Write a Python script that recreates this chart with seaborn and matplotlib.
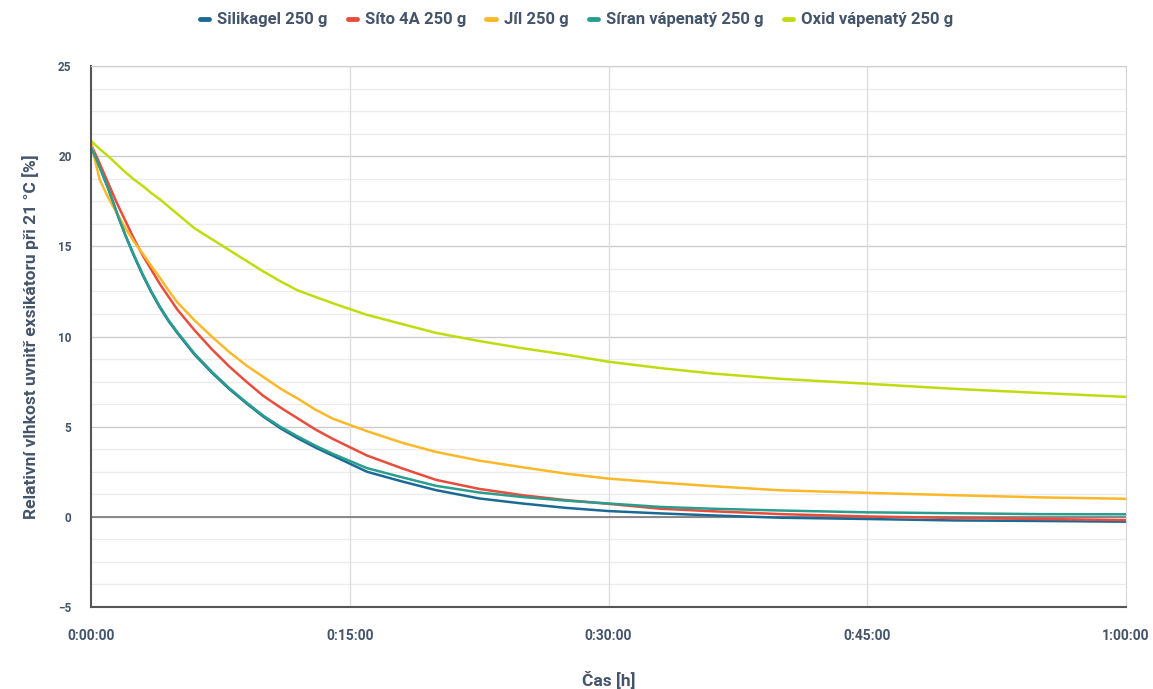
import numpy as np
import pandas as pd
import matplotlib
matplotlib.use("Agg")
import matplotlib.pyplot as plt
from matplotlib.ticker import MultipleLocator, FixedLocator, FuncFormatter
import seaborn as sns

# time in minutes
cas = [0, 0.5, 1, 1.5, 2, 2.5, 3, 3.5, 4, 4.5, 5, 6, 7, 8, 9, 10, 11, 12, 13, 14, 16, 18, 20, 22.5, 25, 27.5, 30,
       33, 36, 40, 45, 50, 55, 60]

silikagel = [20.5, 19.4, 18.2, 16.85, 15.6, 14.45, 13.4, 12.45, 11.6, 10.85, 10.2, 9.0, 8.0, 7.1, 6.3, 5.55, 4.9, 4.35,
             3.85, 3.4, 2.5, 1.97, 1.48, 1.02, 0.74, 0.5, 0.32, 0.19, 0.08, -0.05, -0.12, -0.2, -0.23, -0.27]
sito = [20.65, 19.6, 18.5, 17.4, 16.4, 15.4, 14.5, 13.7, 12.9, 12.2, 11.5, 10.35, 9.3, 8.35, 7.5, 6.7, 6.05, 5.45,
        4.85, 4.33, 3.4, 2.7, 2.05, 1.55, 1.2, 0.93, 0.72, 0.45, 0.31, 0.15, 0.02, -0.06, -0.12, -0.18]
jil = [20.75, 18.7, 17.7, 16.85, 16.0, 15.25, 14.6, 13.9, 13.25, 12.55, 11.9, 10.9, 10.0, 9.15, 8.4, 7.75, 7.1, 6.55,
       5.95, 5.45, 4.75, 4.12, 3.6, 3.12, 2.75, 2.4, 2.12, 1.9, 1.7, 1.47, 1.33, 1.2, 1.08, 1.0]
siran = [20.5, 19.4, 18.2, 16.85, 15.6, 14.5, 13.45, 12.5, 11.65, 10.9, 10.25, 9.05, 8.05, 7.15, 6.35, 5.6, 4.98, 4.45,
         3.95, 3.5, 2.7, 2.2, 1.72, 1.35, 1.1, 0.9, 0.74, 0.55, 0.45, 0.35, 0.25, 0.2, 0.15, 0.14]
oxid = [20.85, 20.4, 20.0, 19.55, 19.1, 18.7, 18.35, 17.95, 17.6, 17.2, 16.8, 16.0, 15.4, 14.8, 14.2, 13.6, 13.05, 12.55,
        12.2, 11.85, 11.2, 10.7, 10.2, 9.75, 9.35, 9.0, 8.6, 8.25, 7.95, 7.65, 7.38, 7.1, 6.87, 6.65]

nazvy = ["Silikagel 250 g", "Síto 4A 250 g", "Jíl 250 g", "Síran vápenatý 250 g", "Oxid vápenatý 250 g"]
barvy = ["#1b6a96", "#e74c3c", "#fbb829", "#2a9d8f", "#c1dc0e"]

serie = [silikagel, sito, jil, siran, oxid]
rows = []
for nazev, hodnoty in zip(nazvy, serie):
    for t, v in zip(cas, hodnoty):
        rows.append({"cas": t, "vlhkost": v, "vzorek": nazev})
df = pd.DataFrame(rows)

sns.set_style("white")
plt.rcParams['font.family'] = ['Roboto', 'DejaVu Sans']
text_col = "#44546a"

fig = plt.figure(figsize=(11.53, 6.89), dpi=100)
ax = fig.add_axes([91/1153, 82/689, 1035/1153, 541/689])

sns.lineplot(data=df, x="cas", y="vlhkost", hue="vzorek", hue_order=nazvy,
             palette=dict(zip(nazvy, barvy)), linewidth=1.8, ax=ax, legend=False)

ax.set_xlim(0, 60)
ax.set_ylim(-5, 25)

# grid lines
for v in np.arange(-5, 25.01, 1.25):
    if abs(v % 5) < 1e-9:
        ax.axhline(v, color="#cccccc", lw=1, zorder=0)
    else:
        ax.axhline(v, color="#ececec", lw=1, zorder=0)
ax.axhline(0, color="#777777", lw=1.2, zorder=1)
for v in [15, 30, 45]:
    ax.axvline(v, color="#dddddd", lw=1, zorder=0)

ax.yaxis.set_major_locator(MultipleLocator(5))
ax.yaxis.set_minor_locator(MultipleLocator(1.25))
ax.xaxis.set_major_locator(MultipleLocator(15))
ax.xaxis.set_minor_locator(FixedLocator([x for x in np.arange(0, 60.01, 3.75) if x % 15 != 0]))
ax.xaxis.set_major_formatter(FuncFormatter(lambda x, p: "%d:%02d:00" % (int(x) // 60, int(x) % 60)))

ax.tick_params(axis="y", which="major", direction="inout", length=8, width=1.2, color="#333333",
               labelsize=8.5, labelcolor=text_col, pad=10)
ax.tick_params(axis="y", which="minor", direction="inout", length=6, width=1, color="#333333")
ax.tick_params(axis="x", which="major", length=0, labelsize=10, labelcolor=text_col, pad=16)
ax.tick_params(axis="x", which="minor", direction="inout", length=6, width=1, color="#333333")
for lab in ax.get_xticklabels() + ax.get_yticklabels():
    lab.set_fontweight("bold")

for s in ["left", "bottom"]:
    ax.spines[s].set_color("#555555")
    ax.spines[s].set_linewidth(1.5)
ax.spines["right"].set_color("#d5d5d5")
ax.spines["top"].set_color("#cccccc")

ax.set_xlabel("Čas [h]", fontsize=12.5, fontweight="bold", color=text_col, labelpad=20)
ax.set_ylabel("Relativní vlhkost uvnitř exsikátoru při 21 °C [%]", fontsize=12.5, fontweight="bold",
              color=text_col, labelpad=14)

handles = [plt.Line2D([], [], color=c, lw=3.5) for c in barvy]
leg = fig.legend(handles, nazvy, loc="center", bbox_to_anchor=(0.5, 0.971), ncol=5, frameon=False,
                 handlelength=0.55, handletextpad=0.5, columnspacing=1.2, fontsize=12)
for t in leg.get_texts():
    t.set_color(text_col)
    t.set_fontweight("bold")

fig.savefig("out.png", dpi=100)
